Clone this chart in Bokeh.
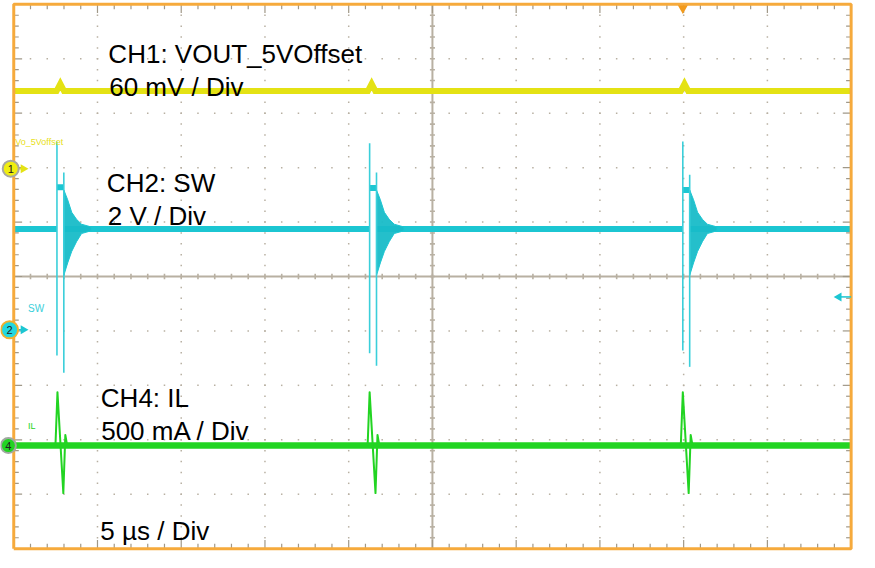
import numpy as np
from bokeh.plotting import figure
from bokeh.models import Range1d, Label
from bokeh.core.properties import value
from bokeh.embed import file_html
from bokeh.resources import INLINE

# ---------------- data: time in µs from the left screen edge (5 µs / div, 10 div);
# ---------------- amplitude in screen divisions from the centre line (10 div)
time_per_div = 5.0
h_divs = 10
v_divs = 10

# CH1 VOUT_5VOffset (yellow)
ch1_level = 3.41
ch1_bump_t = [2.78, 21.37, 40.05]
ch1_bump_peak = [3.54, 3.54, 3.54]

# CH2 SW (cyan)
ch2_level = 0.875
ch2_a_t = [2.58, 21.25, 39.95]
ch2_a_top = [2.48, 2.45, 2.48]
ch2_a_bot = [-1.45, -1.41, -1.36]
ch2_b_t = [2.99, 21.66, 40.36]
ch2_b_top = [1.91, 1.91, 1.87]
ch2_b_bot = [-1.77, -1.64, -1.66]
ch2_plateau = [1.64, 1.625, 1.59]
ch2_ring_dt = [0.0, 0.23, 0.47, 0.76, 1.06, 1.64]
ch2_ring_hi = [1.59, 1.41, 1.18, 1.05, 0.96, 0.91]
ch2_ring_lo = [0.02, 0.25, 0.46, 0.64, 0.79, 0.84]

# CH4 IL (green)
ch4_level = -3.107
ch4_event_t = [2.49, 21.13, 39.83]
ch4_shape_dt = [0.0, 0.12, 0.47, 0.59, 0.70]
ch4_shape_v = [-3.107, -2.125, -3.98, -2.91, -3.107]

# ---------------- styling
YELLOW = "#E4E214"
CYAN = "#1CC6D2"
CYAN_THIN = "#3ACFDA"
GREEN = "#22D422"
ORANGE = "#F6AA3C"
GRID = "#B8B0A2"
TICK = "#A09888"
FONT = "Liberation Sans"

t_end = time_per_div * h_divs
half_v = v_divs / 2

p = figure(width=859, height=552,
           x_range=Range1d(-0.791, 50.50), y_range=Range1d(-5.071, 5.071),
           x_axis_location=None, y_axis_location=None,
           output_backend="svg", toolbar_location=None, min_border=0)
p.grid.visible = False
p.outline_line_color = None
p.background_fill_color = "white"
p.border_fill_color = "white"

# ---------------- graticule
minor_x = time_per_div / 5
minor_y = 0.2
dot_x, dot_y = [], []
for k in range(1, h_divs):
    if k == h_divs // 2:
        continue
    for j in range(1, v_divs * 5):
        dot_x.append(k * time_per_div)
        dot_y.append(-half_v + j * minor_y)
for k in range(1, v_divs):
    if k == v_divs // 2:
        continue
    for j in range(1, h_divs * 5):
        dot_x.append(j * minor_x)
        dot_y.append(-half_v + k)
p.scatter(dot_x, dot_y, marker="square", size=1.5, fill_color=GRID, line_color=None)

# centre cross
p.line([0, t_end], [0, 0], line_color=GRID, line_width=2)
p.line([t_end / 2, t_end / 2], [-half_v, half_v], line_color=GRID, line_width=2)
cx0, cx1, cy0, cy1 = [], [], [], []
for j in range(1, h_divs * 5):
    cx0.append(j * minor_x); cx1.append(j * minor_x); cy0.append(-0.05); cy1.append(0.05)
for j in range(1, v_divs * 5):
    y = -half_v + j * minor_y
    cx0.append(t_end / 2 - 0.15); cx1.append(t_end / 2 + 0.15); cy0.append(y); cy1.append(y)
p.segment(cx0, cy0, cx1, cy1, line_color=GRID, line_width=1.6)

# edge ticks
ex0, ex1, ey0, ey1 = [], [], [], []
for j in range(1, h_divs * 5):
    x = j * minor_x
    ln = 0.16 if j % 5 == 0 else 0.09
    ex0 += [x, x]; ex1 += [x, x]
    ey0 += [half_v, -half_v]; ey1 += [half_v - ln, -half_v + ln]
for j in range(1, v_divs * 5):
    y = -half_v + j * minor_y
    ln = 0.5 if j % 5 == 0 else 0.3
    ex0 += [0, t_end]; ex1 += [ln, t_end - ln]
    ey0 += [y, y]; ey1 += [y, y]
p.segment(ex0, ey0, ex1, ey1, line_color=TICK, line_width=1.2)

# ---------------- CH1 trace
xs1, ys1 = [0.0], [ch1_level]
for t, pk in zip(ch1_bump_t, ch1_bump_peak):
    xs1 += [t - 0.22, t, t + 0.22]
    ys1 += [ch1_level, pk, ch1_level]
xs1.append(t_end); ys1.append(ch1_level)
p.line(xs1, ys1, line_color=YELLOW, line_width=6, line_join="miter")

# ---------------- CH2 trace
band_x, band_y = [], []
prev = 0.0
for a, b, pl in zip(ch2_a_t, ch2_b_t, ch2_plateau):
    band_x += [[prev, a], [a, b]]
    band_y += [[ch2_level, ch2_level], [pl, pl]]
    prev = b
band_x.append([prev, t_end]); band_y.append([ch2_level, ch2_level])
p.multi_line(band_x, band_y, line_color=CYAN, line_width=6)

ring_xs, ring_ys = [], []
for b in ch2_b_t:
    rx = [b + d for d in ch2_ring_dt]
    ring_xs.append(rx + rx[::-1])
    ring_ys.append(list(ch2_ring_hi) + list(ch2_ring_lo)[::-1])
p.patches(ring_xs, ring_ys, fill_color="#18BCC8", fill_alpha=0.95, line_color=CYAN, line_width=1)

sx0, sx1, sy0, sy1 = [], [], [], []
for a, at, ab, b, bt, bb in zip(ch2_a_t, ch2_a_top, ch2_a_bot, ch2_b_t, ch2_b_top, ch2_b_bot):
    sx0 += [a, b]; sx1 += [a, b]; sy0 += [at, bt]; sy1 += [ab, bb]
p.segment(sx0, sy0, sx1, sy1, line_color=CYAN_THIN, line_width=1.6)

# ---------------- CH4 trace
p.line([0, t_end], [ch4_level, ch4_level], line_color=GREEN, line_width=6.5)
g_xs, g_ys = [], []
for t in ch4_event_t:
    g_xs.append([t + d for d in ch4_shape_dt])
    g_ys.append(list(ch4_shape_v))
p.multi_line(g_xs, g_ys, line_color=GREEN, line_width=2, line_join="round")

# ---------------- screen frame
p.line([0, t_end, t_end, 0, 0], [-half_v, -half_v, half_v, half_v, -half_v],
       line_color=ORANGE, line_width=3)

# trigger position / level markers
p.scatter([ch2_a_t[2]], [4.93], marker="inverted_triangle", size=10,
          fill_color="#F29A1C", line_color=None)
p.line([49.3, t_end], [-0.375, -0.375], line_color=CYAN, line_width=1.5)
p.scatter([49.27], [-0.375], marker="triangle", angle=np.pi / 2, size=9,
          fill_color=CYAN, line_color=None)

# channel reference markers
p.line([0.2, 0.45], [1.98, 1.98], line_color=YELLOW, line_width=1.5)
p.scatter([0.57], [1.98], marker="triangle", angle=-np.pi / 2, size=9,
          fill_color=YELLOW, line_color=None)
p.line([0.2, 0.45], [-0.98, -0.98], line_color=CYAN, line_width=1.5)
p.scatter([0.57], [-0.98], marker="triangle", angle=-np.pi / 2, size=9,
          fill_color=CYAN, line_color=None)
p.scatter([-0.18], [1.98], marker="circle", size=16, fill_color="#F0EE10",
          line_color="#A8A8A0", line_width=2)
p.scatter([-0.25], [-0.98], marker="circle", size=17, fill_color="#22D8E0",
          line_color="#F0B030", line_width=2)
p.scatter([-0.32], [ch4_level], marker="circle", size=15, fill_color=GREEN,
          line_color="#A0A8A0", line_width=2)
p.text([-0.18, -0.25, -0.32], [1.98, -0.98, ch4_level], text=["1", "2", "4"],
       text_font=value(FONT), text_font_size="11px", text_color="#202020",
       text_align="center", text_baseline="middle")

# small channel labels
p.text([0.09], [2.48], text=["Vo_5Voffset"], text_font=value(FONT), text_font_size="9px",
       text_color="#E8E020", text_baseline="alphabetic")
p.text([0.85], [-0.59], text=["SW"], text_font=value(FONT), text_font_size="10px",
       text_color=CYAN_THIN, text_baseline="alphabetic")
p.text([0.85], [-2.75], text=["IL"], text_font=value(FONT), text_font_size="9px",
       text_color=GREEN, text_baseline="alphabetic")

# big annotations
notes = [
    (5.65, 4.09, "CH1: VOUT_5VOffset"),
    (5.70, 3.49, "60 mV / Div"),
    (5.56, 1.71, "CH2: SW"),
    (5.62, 1.12, "2 V / Div"),
    (5.20, -2.24, "CH4: IL"),
    (5.22, -2.83, "500 mA / Div"),
    (5.17, -4.68, "5 µs / Div"),
]
for x, y, t in notes:
    p.add_layout(Label(x=x, y=y, text=t, text_font=FONT, text_font_size="26px",
                       text_color="black", text_baseline="alphabetic", text_align="left"))

open("out.html", "w").write(file_html(p, INLINE))
